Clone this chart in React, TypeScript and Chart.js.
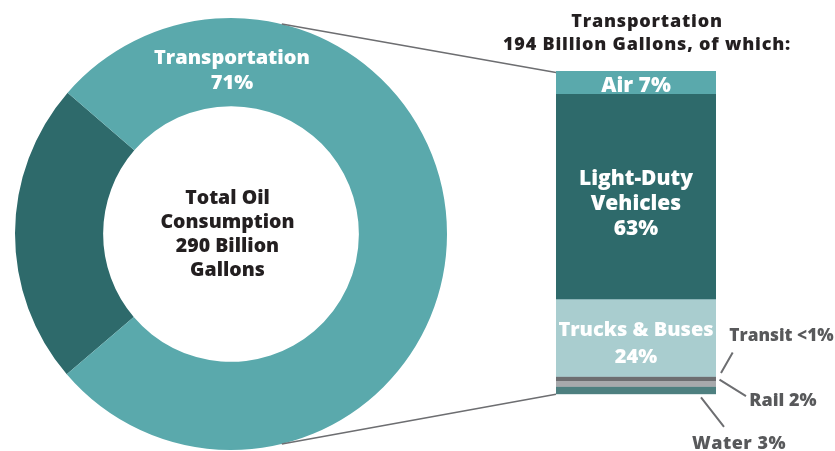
import React, { useEffect, useRef } from 'react';
import { Chart, registerables } from 'chart.js';

Chart.register(...registerables);

// ---- data ----
const totalLabels = ['Other', 'Transportation'];
const totalShares = [22.6, 77.4]; // angular shares as drawn in the picture
const totalColors = ['#2E6A6B', '#5AA9AC'];

const modeLabels = ['Air', 'Light-Duty Vehicles', 'Trucks & Buses', 'Transit', 'Rail', 'Water'];
const modeShares = [7, 63.5, 24, 1.3, 1.8, 2.4];
const modeColors = ['#5AA9AC', '#2E6A6B', '#A9CDCF', '#6D6E71', '#A7A9AC', '#4E8080'];
const modeInnerText = [['Air 7%'], ['Light-Duty', 'Vehicles', '63%'], ['Trucks & Buses', '24%'], [], [], []];
const sideLabels = ['Transit <1%', 'Rail 2%', 'Water 3%'];
const titleLines = ['Transportation', '194 Billion Gallons, of which:'];
const centerLines = ['Total Oil', 'Consumption', '290 Billion', 'Gallons'];
const ringLines = ['Transportation', '71%'];

const FONT = '"Open Sans", "DejaVu Sans", sans-serif';
const W = 835;
const H = 451;

function setSpacing(ctx: any, px: number) {
  if ('letterSpacing' in ctx) ctx.letterSpacing = `${px}px`;
}

export default function App() {
  const donutRef = useRef<HTMLCanvasElement | null>(null);
  const barRef = useRef<HTMLCanvasElement | null>(null);

  useEffect(() => {
    document.body.style.margin = '0';
    const donut = new Chart(donutRef.current as HTMLCanvasElement, {
      type: 'doughnut',
      data: {
        labels: totalLabels,
        datasets: [{ data: totalShares, backgroundColor: totalColors, borderWidth: 0, hoverOffset: 0 }],
      },
      options: {
        responsive: false,
        animation: false,
        rotation: 229.5,
        cutout: '59.2%',
        layout: { padding: { left: 15, right: 15, top: 17, bottom: 0 } },
        plugins: { legend: { display: false }, tooltip: { enabled: false } },
        events: [],
      },
      plugins: [
        {
          id: 'donutText',
          afterDraw(chart: any) {
            const arc = chart.getDatasetMeta(0).data[0];
            const cx = arc.x;
            const cy = arc.y;
            const ctx = chart.ctx;
            ctx.save();
            ctx.textAlign = 'center';
            ctx.textBaseline = 'alphabetic';
            ctx.fillStyle = '#FFFFFF';
            ctx.font = `800 20px ${FONT}`;
            setSpacing(ctx, 0);
            ctx.fillText(ringLines[0], cx + 1, cy - 170.5);
            ctx.fillText(ringLines[1], cx + 1, cy - 145.5);
            ctx.fillStyle = '#231F20';
            ctx.font = `800 19.5px ${FONT}`;
            const base = [204, 228.3, 252.3, 276];
            centerLines.forEach((t, i) => ctx.fillText(t, cx - 3.5, cy - 234 + base[i]));
            ctx.restore();
          },
        },
      ],
    } as any);

    const bar = new Chart(barRef.current as HTMLCanvasElement, {
      type: 'bar',
      data: {
        labels: ['Transportation'],
        datasets: modeLabels.map((l, i) => ({
          label: l,
          data: [modeShares[i]],
          backgroundColor: modeColors[i],
          borderWidth: 0,
          barPercentage: 1,
          categoryPercentage: 1,
          stack: 's',
        })),
      },
      options: {
        responsive: false,
        animation: false,
        layout: { padding: { left: 556, right: W - 716, top: 71, bottom: H - 394.3 } },
        scales: {
          x: { display: false, stacked: true },
          y: { display: false, stacked: true, min: 0, max: 100, reverse: true },
        },
        plugins: { legend: { display: false }, tooltip: { enabled: false } },
        events: [],
      },
      plugins: [
        {
          id: 'annot',
          afterDraw(chart: any) {
            const ctx = chart.ctx;
            const seg = modeLabels.map((_, i) => {
              const el = chart.getDatasetMeta(i).data[0];
              return {
                top: Math.min(el.y, el.base),
                bottom: Math.max(el.y, el.base),
                left: el.x - el.width / 2,
                right: el.x + el.width / 2,
                cx: el.x,
              };
            });
            const barTop = seg[0].top;
            const barBottom = seg[seg.length - 1].bottom;
            const barLeft = seg[0].left;
            const barRight = seg[0].right;
            const barCx = seg[0].cx;

            // connector lines from doughnut
            const dmeta = donut.getDatasetMeta(0).data[0] as any;
            const dcx = dmeta.x;
            const dcy = dmeta.y;
            const R = dmeta.outerRadius;
            const a = (76.4 * Math.PI) / 180;
            ctx.save();
            ctx.strokeStyle = '#6D6E71';
            ctx.lineWidth = 1.6;
            ctx.beginPath();
            ctx.moveTo(dcx + R * Math.cos(-a), dcy + R * Math.sin(-a));
            ctx.lineTo(barLeft, barTop + 1.5);
            ctx.moveTo(dcx + R * Math.cos(a), dcy + R * Math.sin(a));
            ctx.lineTo(barLeft, barBottom);
            ctx.stroke();

            // title
            ctx.fillStyle = '#231F20';
            ctx.textAlign = 'center';
            ctx.textBaseline = 'alphabetic';
            ctx.font = `800 18px ${FONT}`;
            setSpacing(ctx, 0.8);
            ctx.fillText(titleLines[0], barCx + 11, 27);
            ctx.fillText(titleLines[1], barCx + 11, 50);
            setSpacing(ctx, 0);

            // inner bar labels
            const sizes = [21, 21, 20];
            const dys = [2, 6.4, 4.5];
            const lhs = [0, 24.7, 27];
            ctx.fillStyle = '#FFFFFF';
            modeInnerText.forEach((lines, i) => {
              if (!lines.length) return;
              const s = seg[i];
              const size = sizes[i];
              ctx.font = `800 ${size}px ${FONT}`;
              const mid = (s.top + s.bottom) / 2 + dys[i];
              const n = lines.length;
              lines.forEach((t, k) => {
                const capMid = mid + (k - (n - 1) / 2) * lhs[i];
                ctx.fillText(t, s.cx, capMid + size * 0.357);
              });
            });

            // side labels with leader lines
            const sTransit = seg[3];
            const sRail = seg[4];
            const sWater = seg[5];
            ctx.strokeStyle = '#6D6E71';
            ctx.lineWidth = 2;
            ctx.beginPath();
            ctx.moveTo(barRight + 5, sTransit.top - 3.5);
            ctx.lineTo(barRight + 16.7, sTransit.top - 24);
            ctx.moveTo(barRight + 3.5, (sRail.top + sRail.bottom) / 2 - 4);
            ctx.lineTo(barRight + 30, sRail.bottom + 9.5);
            ctx.moveTo(barRight - 15, sWater.bottom + 3);
            ctx.lineTo(barRight + 8, sWater.bottom + 32.5);
            ctx.stroke();

            ctx.fillStyle = '#58595B';
            ctx.font = `800 17.3px ${FONT}`;
            ctx.fillText(sideLabels[0], barRight + 65.5, 341);
            ctx.font = `800 18px ${FONT}`;
            ctx.fillText(sideLabels[1], barRight + 67, 406);
            setSpacing(ctx, 0.5);
            ctx.fillText(sideLabels[2], barRight + 23, 449);
            setSpacing(ctx, 0);
            ctx.restore();
          },
        },
      ],
    } as any);

    return () => {
      bar.destroy();
      donut.destroy();
    };
  }, []);

  return (
    <div style={{ position: 'fixed', left: 0, top: 0, width: W, height: H, background: '#FFFFFF' }}>
      <canvas ref={donutRef} width={462} height={H} style={{ position: 'absolute', left: 0, top: 0 }} />
      <canvas ref={barRef} width={W} height={H} style={{ position: 'absolute', left: 0, top: 0 }} />
    </div>
  );
}
